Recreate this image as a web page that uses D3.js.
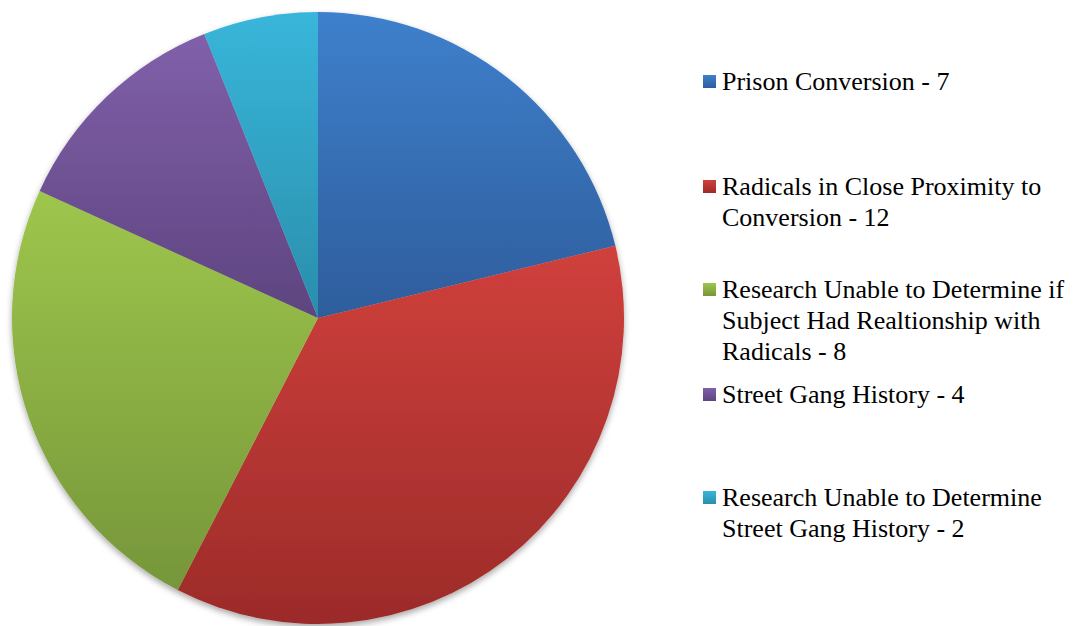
<!DOCTYPE html>
<html><head><meta charset="utf-8"><script src="https://cdn.jsdelivr.net/npm/d3@7"></script></head>
<body>
<svg id="c" width="1080" height="626"></svg>
<script>
const categories = [
  "Prison Conversion - 7",
  "Radicals in Close Proximity to Conversion - 12",
  "Research Unable to Determine if Subject Had Realtionship with Radicals - 8",
  "Street Gang History - 4",
  "Research Unable to Determine Street Gang History - 2"
];
const values = [7, 12, 8, 4, 2];
const legendLines = [
  ["Prison Conversion - 7"],
  ["Radicals in Close Proximity to", "Conversion - 12"],
  ["Research Unable to Determine if", "Subject Had Realtionship with", "Radicals - 8"],
  ["Street Gang History - 4"],
  ["Research Unable to Determine", "Street Gang History - 2"]
];
const colorsTop = ["#3e80cc", "#d0403c", "#9ec64c", "#8060aa", "#38b6da"];
const colorsBottom = ["#2e5d9c", "#9c2b29", "#76963a", "#5e447f", "#2a8eab"];

document.body.style.margin = "0";
const svg = d3.select("#c").style("display","block");
const cx = 318, cy = 318, r = 306;

const defs = svg.append("defs");
const f = defs.append("filter").attr("id","shadow").attr("x","-10%").attr("y","-10%").attr("width","120%").attr("height","125%");
f.append("feDropShadow").attr("dx",0).attr("dy",3).attr("stdDeviation",3).attr("flood-color","#000").attr("flood-opacity",0.35);

values.forEach((v,i)=>{
  const g = defs.append("linearGradient").attr("id","g"+i).attr("x1",0).attr("y1",0).attr("x2",0).attr("y2",1);
  g.append("stop").attr("offset","0%").attr("stop-color",colorsTop[i]);
  g.append("stop").attr("offset","100%").attr("stop-color",colorsBottom[i]);
});

const pie = d3.pie().sort(null).value(d=>d);
const arc = d3.arc().innerRadius(0).outerRadius(r);
const arcs = pie(values);

const pg = svg.append("g").attr("transform",`translate(${cx},${cy})`).attr("filter","url(#shadow)");
pg.selectAll("path").data(arcs).join("path")
  .attr("d",arc)
  .attr("fill",(d,i)=>`url(#g${i})`);

const legendY = [82, 187, 290, 395, 498];
const lineH = 31;
legendLines.forEach((lines,i)=>{
  const y0 = legendY[i];
  svg.append("rect").attr("x",703).attr("y",y0-7).attr("width",13).attr("height",13).attr("fill",`url(#g${i})`);
  lines.forEach((ln,j)=>{
    svg.append("text").attr("x",722).attr("y",y0+8+j*lineH)
      .attr("font-size",26)
      .style("font-family",`"Times New Roman", "Nimbus Roman", "Liberation Serif", Tinos, serif`)
      .text(ln);
  });
});
</script></body></html>
